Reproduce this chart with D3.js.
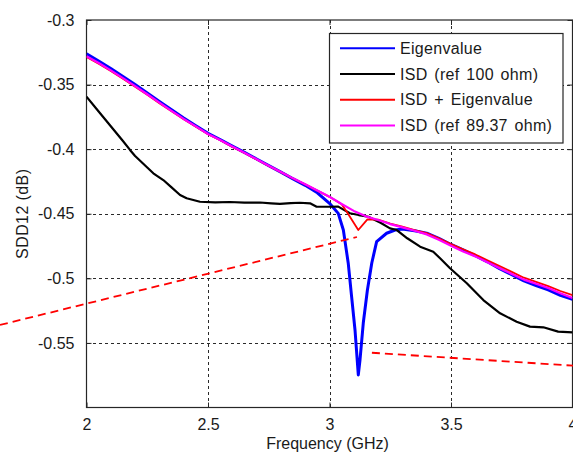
<!DOCTYPE html>
<html>
<head>
<meta charset="utf-8">
<script src="https://cdn.jsdelivr.net/npm/d3@7"></script>
<style>
  html, body { margin: 0; padding: 0; background: #fff; }
  svg { display: block; }
  text { font-family: "Liberation Sans", Arial, sans-serif; fill: #1a1a1a; }
</style>
</head>
<body>
<svg id="chart" width="573" height="456"></svg>
<script>
// Frequency axis (GHz) and SDD12 (dB) tick values
const xTicks = [2, 2.5, 3, 3.5, 4];
const yTicks = [-0.3, -0.35, -0.4, -0.45, -0.5, -0.55];
const xLabel = "Frequency (GHz)";
const yLabel = "SDD12 (dB)";

// Eigenvalue
const eigFreq = [2.00,2.05,2.10,2.15,2.20,2.25,2.30,2.35,2.40,2.45,2.50,2.55,2.60,2.65,2.70,2.75,2.80,2.85,2.90,2.95,
  3.00,3.036,3.057,3.077,3.091,3.105,3.114,3.1185,3.1255,3.139,3.156,3.174,3.194,3.235,3.27,
  3.30,3.35,3.40,3.45,3.50,3.55,3.60,3.65,3.70,3.75,3.80,3.85,3.90,3.95,4.00];
const eigVal = [-0.3262,-0.3318,-0.3376,-0.3438,-0.3500,-0.3565,-0.3630,-0.3695,-0.3758,-0.3818,-0.3877,-0.3925,-0.3976,-0.4025,-0.4076,-0.4127,-0.4178,-0.4230,-0.4280,-0.4338,
  -0.4419,-0.4497,-0.4626,-0.4881,-0.5142,-0.5400,-0.5632,-0.5748,-0.5632,-0.5346,-0.5090,-0.4881,-0.4716,-0.4651,-0.4626,
  -0.4618,-0.4632,-0.4650,-0.4690,-0.4738,-0.4780,-0.4825,-0.4872,-0.4925,-0.4972,-0.5020,-0.5056,-0.5090,-0.5132,-0.5162];

// ISD (ref 100 ohm)
const isd100Freq = [2.00,2.05,2.10,2.15,2.179,2.20,2.25,2.275,2.316,2.35,2.385,2.412,2.467,2.53,2.59,2.65,2.714,2.76,2.796,2.84,2.878,2.92,2.947,
  3.00,3.036,3.084,3.12,3.16,3.21,3.249,3.277,3.32,3.373,3.427,3.455,3.496,3.565,3.633,3.702,3.770,3.825,3.880,3.941,4.00];
const isd100Val = [-0.3594,-0.3708,-0.3823,-0.3937,-0.4006,-0.4053,-0.4142,-0.4187,-0.4239,-0.4296,-0.4355,-0.4380,-0.4407,-0.4412,-0.4409,-0.4414,-0.4413,-0.4420,-0.4424,-0.4418,-0.4415,-0.4419,-0.4445,
  -0.4446,-0.4445,-0.4496,-0.4510,-0.4523,-0.4570,-0.4613,-0.4626,-0.4690,-0.4755,-0.4794,-0.4845,-0.4922,-0.5038,-0.5168,-0.5271,-0.5336,-0.5374,-0.5379,-0.5413,-0.5418];

// ISD + Eigenvalue
const sumFreq = [2.00,2.05,2.10,2.15,2.20,2.25,2.30,2.35,2.40,2.45,2.50,2.55,2.60,2.65,2.70,2.75,2.80,2.85,2.90,2.95,
  3.00,3.05,3.071,3.1185,3.156,3.20,3.25,3.30,3.35,3.40,3.45,3.50,3.55,3.60,3.65,3.70,3.75,3.80,3.85,3.90,3.95,4.00];
const sumVal = [-0.3286,-0.3339,-0.3395,-0.3455,-0.3516,-0.3579,-0.3644,-0.3706,-0.3769,-0.3827,-0.3885,-0.3931,-0.3982,-0.4030,-0.4080,-0.4130,-0.4178,-0.4227,-0.4273,-0.4321,
  -0.4369,-0.4426,-0.4484,-0.4626,-0.4543,-0.4545,-0.4576,-0.4600,-0.4626,-0.4650,-0.4690,-0.4735,-0.4775,-0.4815,-0.4860,-0.4905,-0.4950,-0.4995,-0.5028,-0.5060,-0.5098,-0.5130];

// ISD (ref 89.37 ohm)
const isd89Freq = [2.00,2.05,2.10,2.15,2.20,2.25,2.30,2.35,2.40,2.45,2.50,2.55,2.60,2.65,2.70,2.75,2.80,2.85,2.90,2.95,
  3.00,3.05,3.10,3.15,3.20,3.25,3.30,3.35,3.40,3.45,3.50,3.55,3.60,3.65,3.70,3.75,3.80,3.85,3.90,3.95,4.00];
const isd89Val = [-0.3280,-0.3333,-0.3390,-0.3450,-0.3512,-0.3575,-0.3640,-0.3703,-0.3766,-0.3824,-0.3883,-0.3929,-0.3980,-0.4028,-0.4078,-0.4128,-0.4177,-0.4226,-0.4272,-0.4320,
  -0.4368,-0.4425,-0.4478,-0.4520,-0.4548,-0.4580,-0.4605,-0.4632,-0.4660,-0.4702,-0.4748,-0.4792,-0.4830,-0.4876,-0.4922,-0.4966,-0.5010,-0.5042,-0.5075,-0.5115,-0.5152];

// Dashed callout lines (frequency, dB)
const calloutA = [[1.644, -0.5361], [3.113, -0.4680]];
const calloutB = [[3.1745, -0.5576], [4.01, -0.5677]];

const seriesNames = ["Eigenvalue", "ISD (ref 100 ohm)", "ISD + Eigenvalue", "ISD (ref 89.37 ohm)"];
const seriesColors = ["#0000ff", "#000000", "#ff0000", "#ff00ff"];
const seriesWidths = [3, 2.2, 1.8, 2.2];

const series = [
  [eigFreq, eigVal],
  [isd100Freq, isd100Val],
  [sumFreq, sumVal],
  [isd89Freq, isd89Val]
].map(([f, v], i) => ({
  name: seriesNames[i],
  color: seriesColors[i],
  width: seriesWidths[i],
  points: f.map((d, j) => [d, v[j]])
}));

const svg = d3.select("#chart");
const plotLeft = 86.5, plotRight = 572.5, plotTop = 20, plotBottom = 407.5;

const x = d3.scaleLinear().domain([2, 4]).range([plotLeft, plotRight]);
const y = d3.scaleLinear().domain([-0.6, -0.3]).range([plotBottom, plotTop]);

// Plot background
svg.append("rect")
  .attr("x", plotLeft).attr("y", plotTop)
  .attr("width", plotRight - plotLeft).attr("height", plotBottom - plotTop)
  .attr("fill", "#fff");

// Dotted grid at interior ticks
const grid = svg.append("g").attr("stroke", "#2a2a2a").attr("stroke-width", 1)
  .attr("stroke-dasharray", "3,3").attr("shape-rendering", "crispEdges");
grid.selectAll("line.gx")
  .data(xTicks.filter(d => d > 2 && d < 4))
  .join("line")
  .attr("class", "gx")
  .attr("x1", d => Math.round(x(d)) + 0.5).attr("x2", d => Math.round(x(d)) + 0.5)
  .attr("y1", plotTop).attr("y2", plotBottom);
grid.selectAll("line.gy")
  .data(yTicks.filter(d => d < -0.3))
  .join("line")
  .attr("class", "gy")
  .attr("x1", plotLeft).attr("x2", plotRight)
  .attr("y1", d => Math.round(y(d)) + 0.5).attr("y2", d => Math.round(y(d)) + 0.5);

// Axes: ticks point inward on all four sides
const fmt = d => String(d);
const axisStyle = g => {
  g.select(".domain").remove();
  g.selectAll(".tick line").attr("stroke", "#262626");
  g.selectAll(".tick text")
    .style("font-size", "16px")
    .style("font-family", "'Liberation Sans', Arial, sans-serif")
    .attr("fill", "#1a1a1a");
};

svg.append("g")
  .attr("transform", `translate(0,${plotBottom})`)
  .call(d3.axisBottom(x).tickValues(xTicks).tickFormat(fmt).tickSizeInner(-5).tickSizeOuter(0).tickPadding(11))
  .call(axisStyle);
svg.append("g")
  .attr("transform", `translate(0,${plotTop})`)
  .call(d3.axisTop(x).tickValues(xTicks).tickFormat("").tickSizeInner(-5).tickSizeOuter(0))
  .call(axisStyle);
svg.append("g")
  .attr("transform", `translate(${plotLeft},0)`)
  .call(d3.axisLeft(y).tickValues(yTicks).tickFormat(fmt).tickSizeInner(-5).tickSizeOuter(0).tickPadding(12))
  .call(axisStyle);
svg.append("g")
  .attr("transform", `translate(${plotRight},0)`)
  .call(d3.axisRight(y).tickValues(yTicks).tickFormat("").tickSizeInner(-5).tickSizeOuter(0))
  .call(axisStyle);

// Box around the axes
svg.append("rect")
  .attr("x", plotLeft).attr("y", plotTop)
  .attr("width", plotRight - plotLeft).attr("height", plotBottom - plotTop)
  .attr("fill", "none").attr("stroke", "#262626").attr("stroke-width", 1.2);

// Data lines
const line = d3.line().x(d => x(d[0])).y(d => y(d[1]));
svg.append("defs").append("clipPath").attr("id", "plotClip")
  .append("rect").attr("x", plotLeft).attr("y", plotTop)
  .attr("width", plotRight - plotLeft).attr("height", plotBottom - plotTop);

svg.append("g").attr("clip-path", "url(#plotClip)")
  .selectAll("path")
  .data(series)
  .join("path")
  .attr("d", d => line(d.points))
  .attr("fill", "none")
  .attr("stroke", d => d.color)
  .attr("stroke-width", d => d.width)
  .attr("stroke-linejoin", "round");

// Red dashed callouts
svg.append("g")
  .selectAll("path")
  .data([calloutA, calloutB])
  .join("path")
  .attr("d", line)
  .attr("fill", "none")
  .attr("stroke", "#ff0000")
  .attr("stroke-width", 1.8)
  .attr("stroke-dasharray", "8,5");

// Axis titles
svg.append("text")
  .attr("x", (plotLeft + plotRight) / 2 - 2).attr("y", 449)
  .attr("text-anchor", "middle")
  .style("font-size", "16px")
  .text(xLabel);
svg.append("text")
  .attr("transform", `translate(28,${(plotTop + plotBottom) / 2}) rotate(-90)`)
  .attr("text-anchor", "middle")
  .style("font-size", "16px")
  .style("letter-spacing", "0.4px")
  .text(yLabel);

// Legend
const lg = svg.append("g");
lg.append("rect")
  .attr("x", 329.5).attr("y", 33.5).attr("width", 233.5).attr("height", 109.5)
  .attr("fill", "#fff").attr("stroke", "#262626").attr("stroke-width", 1.2);
const items = lg.selectAll("g.item")
  .data(series)
  .join("g")
  .attr("class", "item")
  .attr("transform", (d, i) => `translate(0,${48.3 + i * 25.7})`);
items.append("line")
  .attr("x1", 340).attr("x2", 395)
  .attr("stroke", d => d.color).attr("stroke-width", 2);
items.append("text")
  .attr("x", 400).attr("y", 5.5)
  .style("font-size", "16px")
  .style("letter-spacing", "0.3px")
  .style("word-spacing", "2px")
  .text(d => d.name);
</script>
</body>
</html>
